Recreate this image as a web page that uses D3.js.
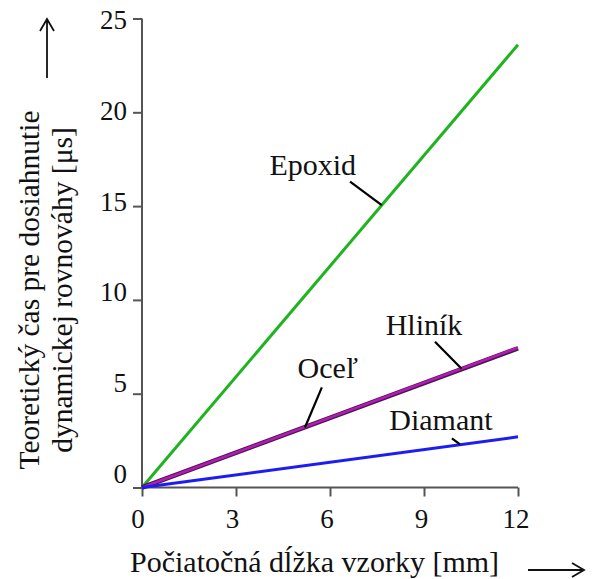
<!DOCTYPE html>
<html>
<head>
<meta charset="utf-8">
<script src="https://cdn.jsdelivr.net/npm/d3@7"></script>
<style>
  body { margin: 0; background: #fff; }
  svg { display: block; }
  svg text { font-family: "Liberation Serif", serif; }
  .axis path, .axis line { stroke: #555; stroke-width: 2; }
  .axis text { font-size: 27px; fill: #111; }
</style>
</head>
<body>
<svg id="Vis" width="593" height="579"></svg>
<script>
// chart values
const materials = ["Epoxid", "Oceľ", "Hliník", "Diamant"];
const lengths = [0, 12];                 // mm
const timesEpoxid = [0, 23.6];           // µs
const timesOcel = [0, 7.42];
const timesHlinik = [0, 7.45];
const timesDiamant = [0, 2.7];
const xTicks = [0, 3, 6, 9, 12];
const yTicks = [0, 5, 10, 15, 20, 25];

// label anchor (x, y in data units) and leader end points
const labelPos = [[5.45, 16.66], [5.93, 5.82], [9.0, 8.13], [9.54, 3.06]];
const leaders = [
  [[6.64, 16.3], [7.65, 15.05]],
  [[5.74, 5.34], [5.2, 3.2]],
  [[9.35, 7.77], [10.2, 6.33]],
  [[9.89, 2.62], [10.15, 2.3]]
];

const margin = { top: 18.5, bottom: 91.5, left: 142, right: 75 };

const svg = d3.select("svg#Vis");
const width = +svg.attr("width");
const height = +svg.attr("height");
const plotWidth = width - margin.left - margin.right;
const plotHeight = height - margin.top - margin.bottom;

const plot = svg.append("g").attr("id", "plot")
  .attr("transform", translate(margin.left, margin.top));

const xScale = d3.scaleLinear().domain([0, 12]).range([0, plotWidth]);
const yScale = d3.scaleLinear().domain([0, 25]).range([plotHeight, 0]);

// tick labels in the source sit a bit off their ticks
const xLabelScale = xScale.copy().range([-4, plotWidth - 2]);
const yLabelScale = yScale.copy().range([plotHeight - 13.5, 1.5]);

drawAxes();
drawLines();
drawLabels();
drawTitles();

function drawAxes() {
  const xGroup = plot.append("g").attr("class", "axis")
    .attr("transform", translate(0, plotHeight));
  xGroup.call(d3.axisBottom(xScale).tickValues(xTicks).tickSize(9).tickSizeOuter(0).tickFormat(""));
  xGroup.select(".domain").attr("d", "M0,0H" + plotWidth);

  const yGroup = plot.append("g").attr("class", "axis");
  yGroup.call(d3.axisLeft(yScale).tickValues(yTicks).tickSize(9).tickSizeOuter(0).tickFormat(""));
  yGroup.select(".domain").attr("d", "M0," + plotHeight + "V0");

  plot.append("g").attr("class", "axis")
    .selectAll("text").data(xTicks).join("text")
    .attr("x", d => xLabelScale(d))
    .attr("y", plotHeight + 40)
    .attr("text-anchor", "middle")
    .text(d => d);

  plot.append("g").attr("class", "axis")
    .selectAll("text").data(yTicks).join("text")
    .attr("x", -15)
    .attr("y", d => yLabelScale(d))
    .attr("dy", "0.33em")
    .attr("text-anchor", "end")
    .text(d => d);
}

function drawLines() {
  const series = [
    { name: "Epoxid", values: timesEpoxid, color: "#1fb31f", w: 3 },
    { name: "Oceľ", values: timesOcel, color: "#4a1850", w: 4.6 },
    { name: "Hliník", values: timesHlinik, color: "#b51ab5", w: 2.6 },
    { name: "Diamant", values: timesDiamant, color: "#1c1cf5", w: 3 }
  ];
  const line = d3.line().x(d => xScale(d[0])).y(d => yScale(d[1]));

  plot.append("g").attr("id", "lines")
    .selectAll("path").data(series).join("path")
    .attr("d", s => line(d3.zip(lengths, s.values)))
    .attr("fill", "none")
    .attr("stroke", s => s.color)
    .attr("stroke-width", s => s.w);
}

function drawLabels() {
  const g = plot.append("g").attr("id", "labels");

  g.selectAll("line").data(leaders).join("line")
    .attr("x1", d => xScale(d[0][0])).attr("y1", d => yScale(d[0][1]))
    .attr("x2", d => xScale(d[1][0])).attr("y2", d => yScale(d[1][1]))
    .attr("stroke", "#000").attr("stroke-width", 2.2);

  g.selectAll("text").data(materials).join("text")
    .attr("x", (d, i) => xScale(labelPos[i][0]))
    .attr("y", (d, i) => yScale(labelPos[i][1]))
    .attr("text-anchor", "middle")
    .attr("font-size", 30)
    .attr("fill", "#111")
    .text(d => d);
}

function drawTitles() {
  // y title, two lines rotated
  const yt = svg.append("text")
    .attr("transform", "translate(39,290) rotate(-90)")
    .attr("text-anchor", "middle")
    .attr("font-size", 29.5)
    .attr("fill", "#111");
  yt.append("tspan").attr("x", 0).attr("y", 0).text("Teoretický čas pre dosiahnutie");
  yt.append("tspan").attr("x", 0).attr("y", 33).text("dynamickej rovnováhy [μs]");

  svg.append("text")
    .attr("x", 130).attr("y", 572)
    .attr("font-size", 30)
    .attr("fill", "#111")
    .text("Počiatočná dĺžka vzorky [mm]");

  // arrows beside the titles
  const arrows = svg.append("g").attr("fill", "none").attr("stroke", "#111").attr("stroke-width", 1.8);
  arrows.append("path").attr("d", "M47,78V19M40,31L47,19L54,31");
  arrows.append("path").attr("d", "M528,570H584M572,563L584,570L572,577");
}

function translate(x, y) {
  return "translate(" + String(x) + "," + String(y) + ")";
}
</script>
</body>
</html>
